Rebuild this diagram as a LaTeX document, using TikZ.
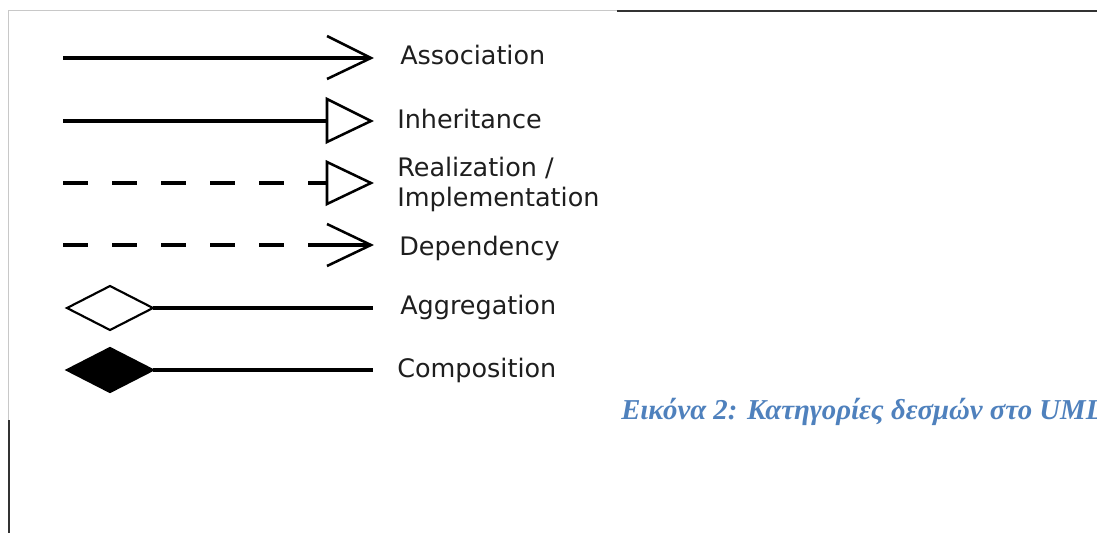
\documentclass[tikz,border=0pt]{standalone}
\usepackage{fontspec}
\setmainfont{DejaVu Sans}
\newfontfamily\capfont{Liberation Serif}
\definecolor{captionblue}{RGB}{79,129,189}
\definecolor{labelink}{RGB}{30,30,30}
\definecolor{framelight}{RGB}{200,200,200}
\definecolor{framedark}{RGB}{50,50,50}
\begin{document}
\begin{tikzpicture}[x=0.75pt,y=-0.75pt,
  conn/.style={line width=2.4pt,black},
  dashconn/.style={conn,dash pattern=on 18.75pt off 18pt},
  headline/.style={line width=1.9pt,black,line join=miter},
  lbl/.style={anchor=base west,inner sep=0pt,text=labelink,font=\fontsize{19.1}{22}\selectfont},
  caption/.style={anchor=base west,inner sep=0pt,text=captionblue,font=\capfont\bfseries\itshape\fontsize{21.6}{25}\selectfont}]
\clip (0,0) rectangle (1097,533);
\fill[white] (0,0) rectangle (1097,533);

% page frame pieces
\draw[framelight,line width=0.8pt] (8,10.5) -- (617,10.5);
\draw[framelight,line width=0.8pt] (8.5,10.5) -- (8.5,420);
\draw[framedark,line width=1.3pt] (617,11) -- (1097,11);
\draw[framedark,line width=1.3pt] (9,420) -- (9,533);

% end points of the connectors
\coordinate (a1) at (63,58);  \coordinate (a2) at (370,58);
\coordinate (i1) at (63,121); \coordinate (i2) at (327,121);
\coordinate (r1) at (63,183); \coordinate (r2) at (327,183);
\coordinate (d1) at (63,245); \coordinate (d2) at (332,245); \coordinate (d3) at (370,245);
\coordinate (g1) at (153,308); \coordinate (g2) at (373,308);
\coordinate (c1) at (153,370); \coordinate (c2) at (373,370);

% Association
\draw[conn] (a1) -- (a2);
\draw[headline] (327,36) -- (371,58) -- (327,79);
% Inheritance
\draw[conn] (i1) -- (i2);
\draw[headline] (327,99) -- (371,121) -- (327,142) -- cycle;
% Realization
\draw[dashconn] (r1) -- (r2);
\draw[headline] (327,162) -- (371,183) -- (327,204) -- cycle;
% Dependency
\draw[dashconn] (d1) -- (d2);
\draw[conn] (308,245) -- (d3);
\draw[headline] (327,224) -- (371,245) -- (327,266);
% Aggregation
\draw[headline,fill=white,line width=1.6pt] (67,308) -- (110,286) -- (153,308) -- (110,330) -- cycle;
\draw[conn] (g1) -- (g2);
% Composition
\draw[headline,fill=black,line width=1.6pt] (67,370) -- (110,348) -- (153,370) -- (110,392) -- cycle;
\draw[conn] (c1) -- (c2);

% labels
\node[lbl] (tass) at (400,64) {Association};
\node[lbl] (tinh) at (397,128) {Inheritance};
\node[lbl] (trea) at (397,176) {Realization /};
\node[lbl] (timp) at (397,206) {Implementation};
\node[lbl] (tdep) at (399,255) {Dependency};
\node[lbl] (tagg) at (400,314) {Aggregation};
\node[lbl] (tcom) at (397,377) {Composition};

\node[caption] (cap) at (621,419) {Εικόνα 2: Κατηγορίες δεσμών στο UML};
\end{tikzpicture}
\end{document}
